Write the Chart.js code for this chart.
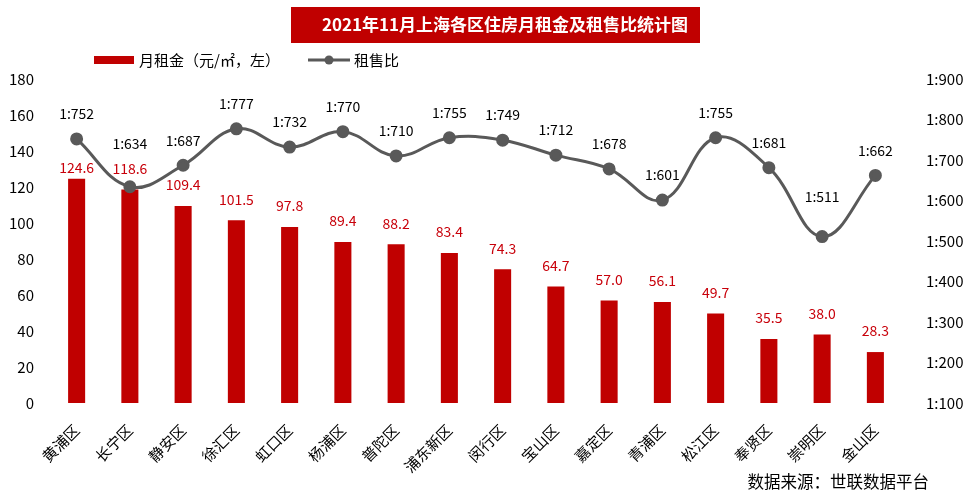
<!DOCTYPE html>
<html>
<head>
<meta charset="utf-8">
<script src="https://cdn.jsdelivr.net/npm/chart.js@4/dist/chart.umd.min.js"></script>
<style>
  html, body { margin: 0; padding: 0; background: #fff; }
  #wrap { width: 971px; height: 503px; }
</style>
</head>
<body>
<div id="wrap"><canvas id="myChart" width="971" height="503"></canvas></div>
<script>
const districts = ['黄浦区', '长宁区', '静安区', '徐汇区', '虹口区', '杨浦区', '普陀区', '浦东新区',
  '闵行区', '宝山区', '嘉定区', '青浦区', '松江区', '奉贤区', '崇明区', '金山区'];
const monthlyRent = [124.6, 118.6, 109.4, 101.5, 97.8, 89.4, 88.2, 83.4, 74.3, 64.7, 57.0, 56.1, 49.7, 35.5, 38.0, 28.3];
const rentSaleRatio = [752, 634, 687, 777, 732, 770, 710, 755, 749, 712, 678, 601, 755, 681, 511, 662];

// hand-placed label nudges (px), as in the original
const rentLabelLift = [-10, 0, 0, 0, 0, 0, 0, 0, 0, 0, 0, 0, 0, 0, 0, 0];
const ratioLabelLift = [0, 18, 0, 0, 0, 0, 0, 0, 0, 0, 0, 0, 0, 0, 15, 0];

const FONT = '"Noto Sans CJK SC", "Noto Sans", sans-serif';
const RED = '#C00000';
const GREY = '#595959';

// title box, legend, source note and value labels
const decorations = {
  id: 'decorations',
  afterDraw(chart) {
    const ctx = chart.ctx;
    ctx.save();

    // title
    ctx.fillStyle = RED;
    ctx.fillRect(291, 7, 409, 36);
    ctx.fillStyle = '#fff';
    ctx.font = 'bold 17px ' + FONT;
    ctx.textAlign = 'center';
    ctx.textBaseline = 'middle';
    ctx.fillText('2021年11月上海各区住房月租金及租售比统计图', 505, 25);

    // legend
    ctx.fillStyle = RED;
    ctx.fillRect(94, 56, 40, 8);
    ctx.fillStyle = '#000';
    ctx.font = '15px ' + FONT;
    ctx.textAlign = 'left';
    ctx.fillText('月租金（元/㎡，左）', 139, 60);
    ctx.strokeStyle = GREY;
    ctx.lineWidth = 3;
    ctx.beginPath();
    ctx.moveTo(308, 60);
    ctx.lineTo(350, 60);
    ctx.stroke();
    ctx.fillStyle = GREY;
    ctx.beginPath();
    ctx.arc(329, 60, 4.5, 0, Math.PI * 2);
    ctx.fill();
    ctx.fillStyle = '#000';
    ctx.fillText('租售比', 354, 60);

    // source
    ctx.font = '16.5px ' + FONT;
    ctx.textAlign = 'right';
    ctx.fillText('数据来源：世联数据平台', 929, 482);

    // bar labels
    ctx.textAlign = 'center';
    ctx.textBaseline = 'middle';
    ctx.font = '14px ' + FONT;
    ctx.fillStyle = '#C8000A';
    chart.getDatasetMeta(1).data.forEach((el, i) => {
      ctx.fillText(monthlyRent[i].toFixed(1), el.x, el.y - 21 - rentLabelLift[i]);
    });

    // ratio labels
    ctx.fillStyle = '#000';
    chart.getDatasetMeta(0).data.forEach((el, i) => {
      ctx.fillText('1:' + rentSaleRatio[i], el.x, el.y - 25 - ratioLabelLift[i]);
    });
    ctx.restore();
  }
};

new Chart(document.getElementById('myChart'), {
  type: 'bar',
  data: {
    labels: districts,
    datasets: [{
      type: 'line',
      label: '租售比',
      data: rentSaleRatio,
      yAxisID: 'y2',
      borderColor: GREY,
      backgroundColor: GREY,
      borderWidth: 3,
      pointRadius: 5,
      pointHoverRadius: 5,
      tension: 0.4,
      order: 0
    }, {
      label: '月租金（元/㎡，左）',
      data: monthlyRent,
      yAxisID: 'y',
      backgroundColor: RED,
      categoryPercentage: 1,
      barPercentage: 0.32,
      order: 1
    }]
  },
  options: {
    responsive: false,
    animation: false,
    layout: { padding: { top: 79, left: 0, right: 0, bottom: 0 } },
    plugins: {
      legend: { display: false },
      title: { display: false },
      tooltip: { enabled: false }
    },
    scales: {
      x: {
        grid: { display: false },
        border: { display: false },
        ticks: {
          color: '#000',
          font: { family: FONT, size: 15 },
          maxRotation: 45,
          minRotation: 45,
          padding: 10
        },
        afterFit(s) { s.height = 100; }
      },
      y: {
        position: 'left',
        min: 0,
        max: 180,
        grid: { display: false },
        border: { display: false },
        ticks: {
          stepSize: 20,
          color: '#000',
          font: { family: FONT, size: 15 },
          padding: 8
        },
        afterFit(s) { s.width = 50; }
      },
      y2: {
        position: 'right',
        min: 100,
        max: 900,
        grid: { display: false },
        border: { display: false },
        ticks: {
          stepSize: 100,
          color: '#000',
          font: { family: FONT, size: 15 },
          padding: 16,
          callback: v => '1:' + v
        },
        afterFit(s) { s.width = 69; }
      }
    }
  },
  plugins: [decorations]
});
</script>
</body>
</html>
